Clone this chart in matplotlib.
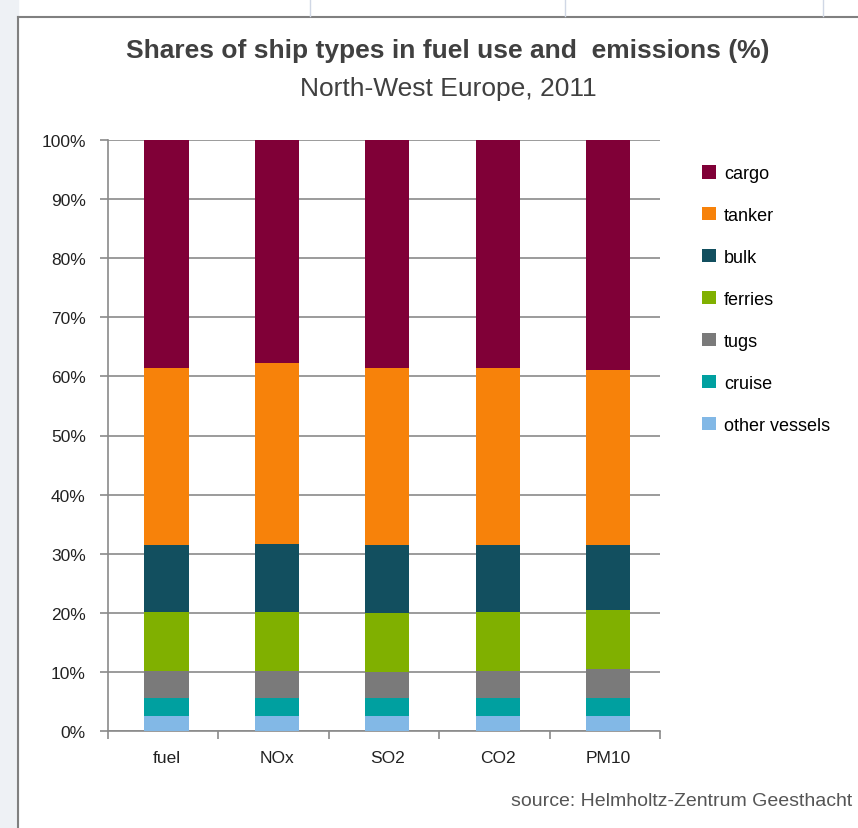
import matplotlib
matplotlib.use('Agg')
import matplotlib.pyplot as plt
import numpy as np

plt.rcParams['font.family'] = ['Liberation Sans Narrow', 'Liberation Sans', 'DejaVu Sans']

categories = ['fuel', 'NOx', 'SO2', 'CO2', 'PM10']
ship_types = ['other vessels', 'cruise', 'tugs', 'ferries', 'bulk', 'tanker', 'cargo']
colors = ['#82b8e6', '#00a0a0', '#7a7a7a', '#80b000', '#124f5f', '#f7820a', '#800037']

other = [2.5, 2.5, 2.5, 2.5, 2.5]
cruise = [3.0, 3.0, 3.0, 3.0, 3.0]
tugs = [4.7, 4.7, 4.4, 4.7, 5.0]
ferries = [10.0, 10.0, 10.0, 10.0, 10.0]
bulk = [11.2, 11.4, 11.5, 11.2, 10.9]
tanker = [30.0, 30.6, 30.1, 30.1, 29.6]
cargo = [100 - sum(v) for v in zip(other, cruise, tugs, ferries, bulk, tanker)]

series = [other, cruise, tugs, ferries, bulk, tanker, cargo]

fig = plt.figure(figsize=(8.58, 8.29), dpi=100)
fig.patch.set_facecolor('white')

# spreadsheet look around the chart
fig.patches.append(plt.Rectangle((0, 0), 18/858, 1, transform=fig.transFigure,
                                 color='#eef1f5', zorder=0))
fig.add_artist(plt.Line2D([18/858, 18/858], [0, 1 - 18/829], transform=fig.transFigure,
                          color='#808080', lw=1.5))
fig.add_artist(plt.Line2D([18/858, 1], [1 - 18/829, 1 - 18/829], transform=fig.transFigure,
                          color='#808080', lw=1.5))
for gx in [310, 565, 823]:
    fig.add_artist(plt.Line2D([gx/858, gx/858], [1 - 17/829, 1], transform=fig.transFigure,
                              color='#d0d7e5', lw=1))

ax = fig.add_axes([108/858, 97/829, 552/858, 591/829])

x = np.arange(len(categories))
bottom = np.zeros(len(categories))
for name, vals, c in zip(ship_types, series, colors):
    ax.bar(x + 0.03, vals, 0.4, bottom=bottom, color=c, label=name, zorder=3)
    bottom += np.array(vals)

ax.set_xlim(-0.5, len(categories) - 0.5)
ax.set_ylim(0, 100)
ax.set_yticks(np.arange(0, 101, 10))
ax.set_yticklabels([f'{v}%' for v in range(0, 101, 10)], fontsize=12.5, color='#222222')
ax.yaxis.grid(True, color='#8a8a8a', lw=1.2, zorder=0)
ax.set_xticks(x + 0.03)
ax.set_xticklabels(categories, fontsize=12.5, color='#222222')
ax.set_xticks(np.arange(-0.5, len(categories)), minor=True)
ax.tick_params(axis='x', which='major', length=0, pad=14)
ax.tick_params(axis='x', which='minor', length=6, color='#8a8a8a', width=1.2)
ax.tick_params(axis='y', length=6, color='#8a8a8a', width=1.2, pad=10)
for s in ['top', 'right']:
    ax.spines[s].set_visible(False)
for s in ['left', 'bottom']:
    ax.spines[s].set_color('#8a8a8a')
    ax.spines[s].set_linewidth(1.2)

fig.text(448/858, 1 - 51/829, 'Shares of ship types in fuel use and  emissions (%)',
         ha='center', va='center', fontsize=19, fontweight='bold', color='#404040')
fig.text(448/858, 1 - 89/829, 'North-West Europe, 2011',
         ha='center', va='center', fontsize=19, color='#404040')

handles, labels = ax.get_legend_handles_labels()
leg = fig.legend(handles[::-1], labels[::-1], loc='upper left',
                 bbox_to_anchor=(686/858, 1 - 150/829), frameon=False,
                 fontsize=13, labelspacing=1.38, handlelength=0.75, handleheight=0.75,
                 handletextpad=0.45)

fig.text(852/858, 1 - 802/829, 'source: Helmholtz-Zentrum Geesthacht',
         ha='right', va='center', fontsize=14, color='#555555')

fig.savefig('out.png', dpi=100)
